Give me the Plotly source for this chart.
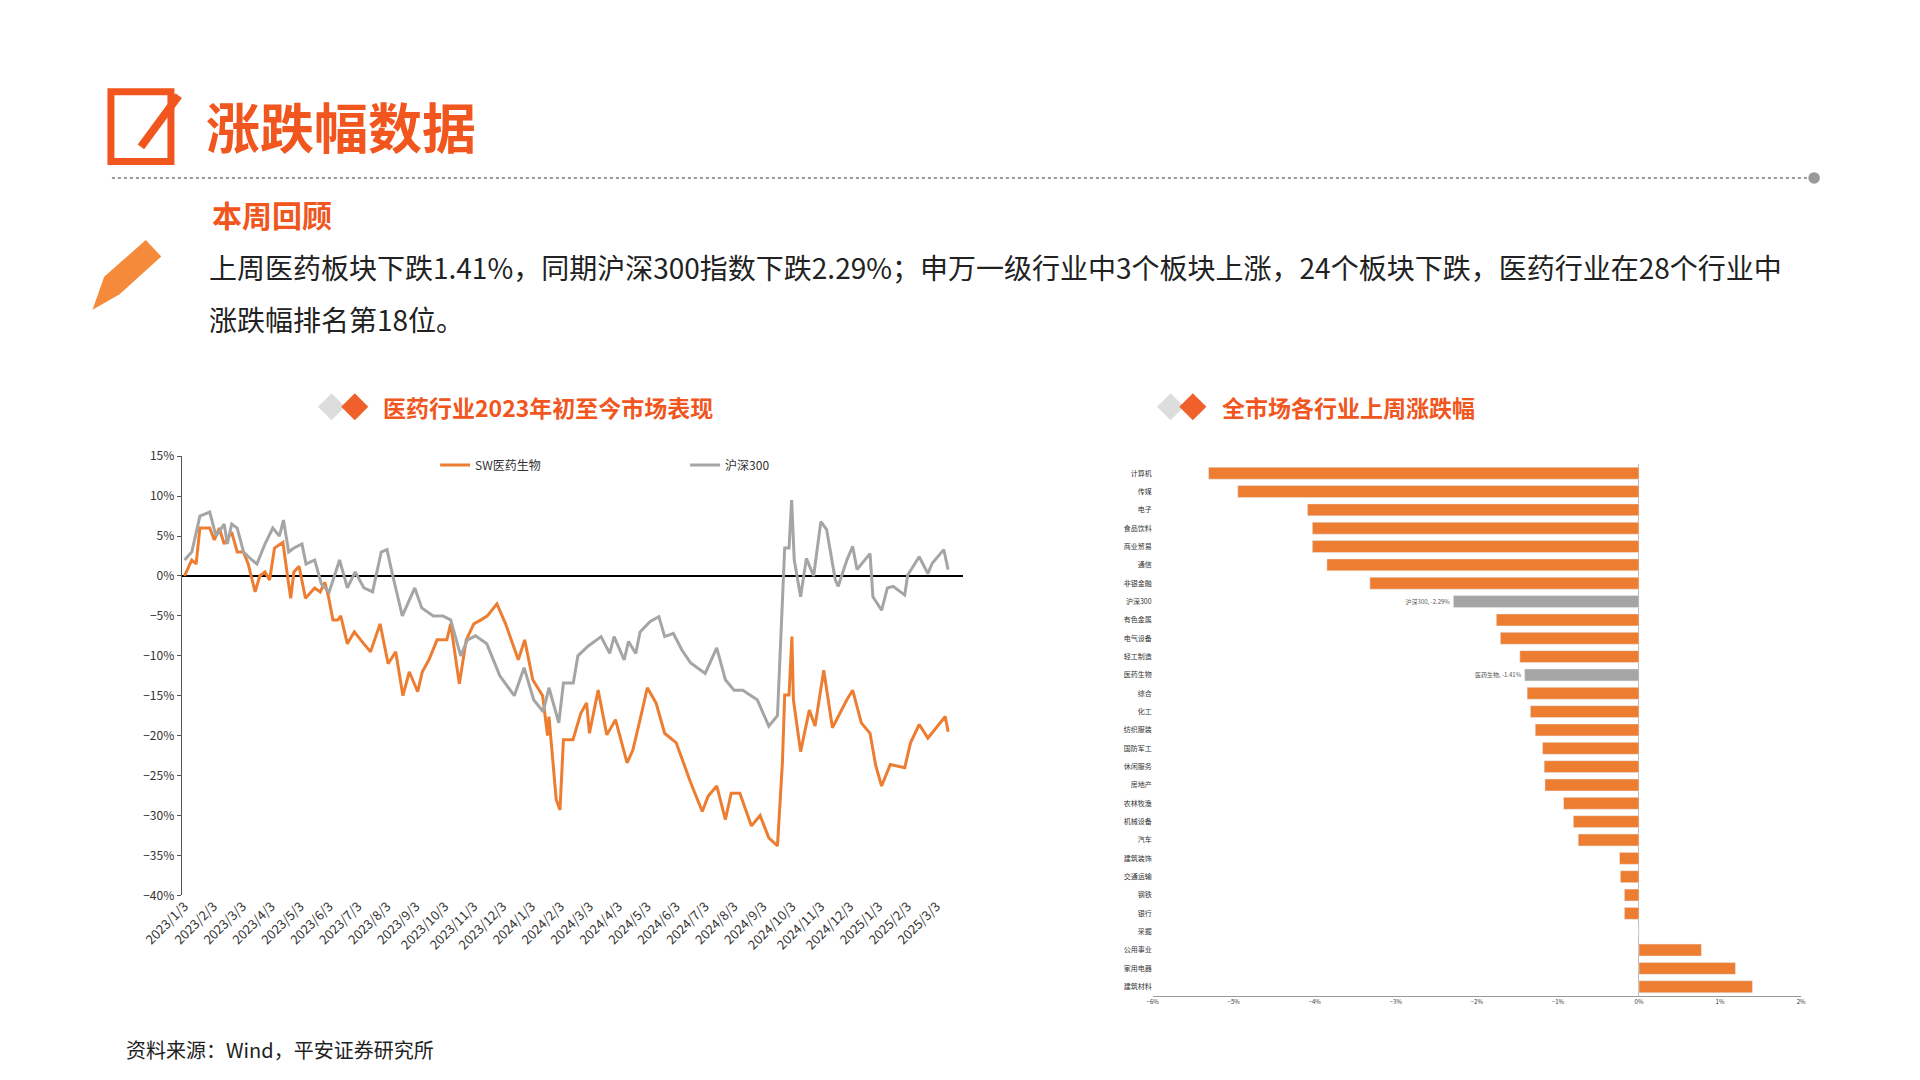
import plotly.graph_objects as go

# ---- line chart data: x = months since 2023/1/3, y = cumulative change (%)
sw_month = [0, 0.25, 0.4, 0.53, 0.87, 1.03, 1.2, 1.37, 1.63, 1.82, 2.04, 2.2, 2.44, 2.6, 2.78, 2.94,
            3.11, 3.4, 3.56, 3.67, 3.78, 3.96, 4.18, 4.5, 4.69, 4.85, 4.97, 5.13, 5.3, 5.4, 5.63,
            5.87, 6.2, 6.43, 6.76, 7.04, 7.3, 7.55, 7.77, 8.06, 8.22, 8.45, 8.73, 9.07, 9.2, 9.5,
            9.74, 10.0, 10.25, 10.47, 10.8, 11.1, 11.54, 11.76, 12.04, 12.38, 12.55,
            12.6, 12.85, 12.98, 13.1, 13.43, 13.7, 13.9, 14.0, 14.3, 14.6, 14.9, 15.3, 15.5,
            15.8, 16.0, 16.3, 16.6, 17.0, 17.2, 17.5, 17.9, 18.1, 18.4, 18.7, 18.9, 19.2, 19.6,
            19.9, 20.2, 20.5, 20.67, 20.75, 20.9, 21.0, 21.05, 21.3, 21.6, 21.8, 22.1, 22.4, 22.9,
            23.1, 23.4, 23.7, 23.9, 24.1, 24.4, 24.9, 25.1, 25.4, 25.7, 26.3, 26.4]
sw_value = [0, 2, 1.5, 6, 6, 4.5, 6, 4, 5.5, 3, 3, 1.5, -2, 0, 0.5, -0.5,
            3.5, 4.2, 0, -2.8, 0.5, 1.2, -2.8, -1.5, -2, -0.8, -2.5, -5.5, -5.5, -5, -8.5,
            -7, -8.5, -9.5, -6, -11, -9.5, -15, -12, -14.5, -12, -10.5, -8, -8, -6, -13.5,
            -8, -6, -5.5, -5, -3.5, -6, -10.5, -8, -13, -15, -20,
            -17.6, -28, -29.3, -20.5, -20.5, -17.2, -15.9, -19.7, -14.3, -19.9, -18, -23.4, -21.8,
            -17.2, -14, -15.9, -19.7, -20.9, -23, -25.9, -29.5, -27.6, -26.3, -30.5, -27.2, -27.2, -31.3,
            -30, -32.8, -33.8, -23.4, -14.9, -14.9, -7.6, -15.5, -22, -16.8, -18.8, -11.8, -19, -15.5,
            -14.3, -18.4, -19.7, -23.8, -26.3, -23.6, -24, -20.9, -18.6, -20.3, -17.6, -19.5]

hs_month = [0, 0.25, 0.53, 0.87, 1.09, 1.37, 1.48, 1.63, 1.82, 2.04, 2.33, 2.5, 2.78, 3.05, 3.28,
            3.42, 3.6, 3.78, 4.06, 4.2, 4.5, 4.73, 5.0, 5.36, 5.63, 5.9, 6.2, 6.5, 6.8, 7.0, 7.2,
            7.53, 7.96, 8.2, 8.6, 8.93, 9.2, 9.55, 9.78, 10.06, 10.45, 10.9, 11.4, 11.74, 12.07,
            12.4, 12.6, 12.94, 13.1, 13.44, 13.6, 13.95, 14.4, 14.7, 14.85, 15.2, 15.35, 15.6,
            15.75, 16.1, 16.4, 16.6, 16.9, 17.2, 17.5, 18.0, 18.4, 18.7, 19.0, 19.3, 19.8, 20.2,
            20.5, 20.64, 20.75, 20.9, 20.99, 21.08, 21.3, 21.5, 21.75, 22.0, 22.2, 22.5, 22.6,
            22.9, 23.1, 23.25, 23.7, 23.8, 24.1, 24.3, 24.5, 24.9, 25.0, 25.4, 25.7, 25.85, 26.25, 26.4]
hs_value = [2, 3, 7.5, 8, 5, 6.5, 4, 6.5, 6, 3, 2, 1.5, 4, 6, 5,
            7, 3, 3.5, 4, 1.5, 2, -1, -2, 2, -1.5, 0.5, -1.5, -2, 3, 3.3, 0,
            -5, -1.5, -4, -5, -5, -5.5, -10, -8, -7.5, -8.5, -12.5, -15, -11.5, -15.5,
            -17, -14, -18.4, -13.4, -13.4, -10, -8.8, -7.6, -9.7, -7.6, -10.5, -8.2, -9.7,
            -7, -5.7, -5.1, -7.6, -7.2, -9.3, -10.9, -12.2, -9, -13, -14.3, -14.3, -15.5, -18.8,
            -17.5, -4.7, 3.5, 3.5, 9.5, 2, -2.6, 2.2, 0, 6.8, 5.8, -0.5, -1.3,
            2, 3.7, 0.8, 2.8, -2.6, -4.3, -1.5, -1.3, -2.4, 0.1, 2.4, 0.3, 1.6, 3.3, 0.8]

month_labels = [f"{2023 + (m // 12)}/{m % 12 + 1}/3" for m in range(27)]

# ---- bar chart data: last-week change by industry (%)
industries = ["计算机", "传媒", "电子", "食品饮料", "商业贸易", "通信", "非银金融", "沪深300",
              "有色金属", "电气设备", "轻工制造", "医药生物", "综合", "化工", "纺织服装",
              "国防军工", "休闲服务", "房地产", "农林牧渔", "机械设备", "汽车", "建筑装饰",
              "交通运输", "钢铁", "银行", "采掘", "公用事业", "家用电器", "建筑材料"]
changes = [-5.31, -4.95, -4.09, -4.03, -4.03, -3.85, -3.32, -2.29,
           -1.76, -1.71, -1.47, -1.41, -1.38, -1.34, -1.28,
           -1.19, -1.17, -1.16, -0.93, -0.81, -0.75, -0.24,
           -0.23, -0.18, -0.18, 0.0, 0.77, 1.19, 1.40]

ORANGE = "#ED7D31"
GRAY = "#A5A5A5"
TITLE = "#F0561D"
FONT = "Noto Sans CJK SC"
W, H = 1920, 1080

bar_colors = [GRAY if n in ("沪深300", "医药生物") else ORANGE for n in industries]
bar_text = [f"{n}, {v:.2f}%" if n in ("沪深300", "医药生物") else "" for n, v in zip(industries, changes)]

fig = go.Figure()
fig.add_trace(go.Scatter(x=sw_month, y=sw_value, mode="lines", name="SW医药生物",
                         line=dict(color=ORANGE, width=3), xaxis="x", yaxis="y"))
fig.add_trace(go.Scatter(x=hs_month, y=hs_value, mode="lines", name="沪深300",
                         line=dict(color=GRAY, width=3), xaxis="x", yaxis="y"))
fig.add_trace(go.Bar(y=industries, x=changes, orientation="h", marker_color=bar_colors,
                     text=bar_text, textposition="outside", textfont=dict(size=6, color="#555"),
                     cliponaxis=False, showlegend=False, xaxis="x2", yaxis="y2"))

fig.update_layout(
    paper_bgcolor="white", plot_bgcolor="white",
    margin=dict(l=0, r=0, t=0, b=0), font=dict(family=FONT, color="#333"),
    xaxis=dict(domain=[0.0714, 0.4917], range=[-0.1, 26.9], tickvals=list(range(27)),
               ticktext=month_labels, tickangle=-45, showgrid=False, zeroline=False,
               tickfont=dict(size=13), ticks=""),
    yaxis=dict(domain=[0.162, 0.5815], range=[-40, 15], dtick=5, ticksuffix="%",
               showgrid=False, zeroline=True, zerolinecolor="black", zerolinewidth=1.5,
               showline=True, linecolor="#555", ticks="outside", ticklen=4, tickcolor="#555",
               tickfont=dict(size=12), anchor="x"),
    xaxis2=dict(domain=[0.594, 0.943], range=[-6, 2], dtick=1, ticksuffix="%",
                showgrid=False, zeroline=True, zerolinecolor="#BBB", zerolinewidth=1,
                showline=True, linecolor="#999", tickfont=dict(size=6), anchor="y2"),
    yaxis2=dict(domain=[0.066, 0.574], autorange="reversed", showgrid=False,
                tickfont=dict(size=7), anchor="x2", ticks=""),
    legend=dict(orientation="h", x=399/W, y=1-461/H, xanchor="left", yanchor="middle",
                font=dict(size=12), bgcolor="rgba(0,0,0,0)", entrywidth=205),
    bargap=0.35,
)

# header decorations
shapes = [
    dict(type="rect", xref="paper", yref="paper", x0=64/W, x1=126/W, y0=1-148/H, y1=1-76/H,
         line=dict(color=TITLE, width=7)),
    dict(type="line", xref="paper", yref="paper", x0=95/W, x1=134/W, y0=1-133/H, y1=1-80/H,
         line=dict(color=TITLE, width=8)),
    dict(type="line", xref="paper", yref="paper", x0=65/W, x1=1821/W, y0=1-165/H, y1=1-165/H,
         line=dict(color="#999", width=2, dash="dot")),
    dict(type="circle", xref="paper", yref="paper", x0=1818/W, x1=1830/W, y0=1-171/H, y1=1-159/H,
         fillcolor="#999", line=dict(width=0)),
    # pencil
    dict(type="path", xref="paper", yref="paper",
         path=f"M {45/W} {1-301/H} L {57/W} {1-267/H} L {100/W} {1-229/H} "
              f"L {116/W} {1-246/H} L {73/W} {1-285/H} Z",
         fillcolor="#F58A3A", line=dict(width=0)),
]
for cx, color in ((292, "#DDDDDD"), (316, "#F0602A"), (1159, "#DDDDDD"), (1182, "#F0602A")):
    s = 14
    shapes.append(dict(type="path", xref="paper", yref="paper",
                       path=f"M {(cx-s)/W} {1-401/H} L {cx/W} {1-(401-s)/H} "
                            f"L {(cx+s)/W} {1-401/H} L {cx/W} {1-(401+s)/H} Z",
                       fillcolor=color, line=dict(width=0)))
fig.update_layout(shapes=shapes)


def note(x, y, text, size, color="#222", bold=False):
    fig.add_annotation(x=x/W, y=1-y/H, xref="paper", yref="paper", xanchor="left",
                       yanchor="middle", showarrow=False, text=f"<b>{text}</b>" if bold else text,
                       font=dict(size=size, color=color, family=FONT))


note(160, 111, "涨跌幅数据", 54, TITLE, True)
note(166, 202, "本周回顾", 30, TITLE, True)
note(163, 257, "上周医药板块下跌1.41%，同期沪深300指数下跌2.29%；申万一级行业中3个板块上涨，24个板块下跌，医药行业在28个行业中", 28)
note(163, 310, "涨跌幅排名第18位。", 28)
note(343, 401, "医药行业2023年初至今市场表现", 23, TITLE, True)
note(1210, 401, "全市场各行业上周涨跌幅", 23, TITLE, True)
note(78, 1064, "资料来源：Wind，平安证券研究所", 20)

fig.write_html("out.html")
